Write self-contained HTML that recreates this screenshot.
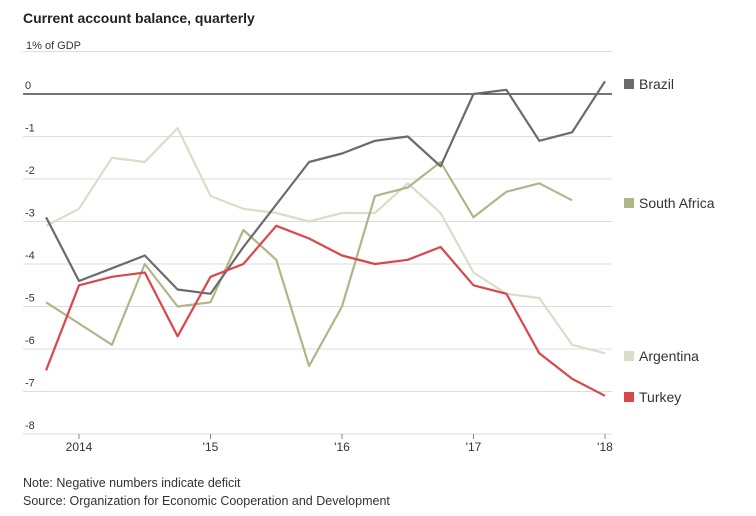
<!DOCTYPE html>
<html><head><meta charset="utf-8"><style>
body{margin:0;background:#fff;font-family:"Liberation Sans",sans-serif;}
svg{display:block}
</style></head><body>
<svg width="756" height="516">
<text x="23" y="23" font-size="14" font-weight="bold" fill="#222">Current account balance, quarterly</text>
<text x="26" y="49" font-size="11" fill="#333">1% of GDP</text>
<g id="grid"></g><g id="lines"></g><g id="legend"></g>
<text x="23" y="487" font-size="12.5" fill="#333">Note: Negative numbers indicate deficit</text>
<text x="23" y="505" font-size="12.5" fill="#333">Source: Organization for Economic Cooperation and Development</text>
</svg>
<script>
const yTicks=[0,-1,-2,-3,-4,-5,-6,-7,-8];
const yTickLabels=["0","-1","-2","-3","-4","-5","-6","-7","-8"];
const xTicks=[2014,2015,2016,2017,2018];
const xTickLabels=["2014","'15","'16","'17","'18"];
const startYear=2013.75;
const brazil=[-2.9,-4.4,-4.1,-3.8,-4.6,-4.7,-3.6,-2.6,-1.6,-1.4,-1.1,-1.0,-1.7,0,0.1,-1.1,-0.9,0.3];
const southAfrica=[-4.9,-5.4,-5.9,-4.0,-5.0,-4.9,-3.2,-3.9,-6.4,-5.0,-2.4,-2.2,-1.6,-2.9,-2.3,-2.1,-2.5];
const argentina=[-3.1,-2.7,-1.5,-1.6,-0.8,-2.4,-2.7,-2.8,-3.0,-2.8,-2.8,-2.1,-2.8,-4.2,-4.7,-4.8,-5.9,-6.1];
const turkey=[-6.5,-4.5,-4.3,-4.2,-5.7,-4.3,-4.0,-3.1,-3.4,-3.8,-4.0,-3.9,-3.6,-4.5,-4.7,-6.1,-6.7,-7.1];
const seriesNames=["Brazil","South Africa","Argentina","Turkey"];
const NS="http://www.w3.org/2000/svg";
const X=t=>79+(t-2014)*131.5;
const Y=v=>94-v*42.5;
function mk(tag,attrs,parent){const e=document.createElementNS(NS,tag);for(const k in attrs)e.setAttribute(k,attrs[k]);parent.appendChild(e);return e;}
const grid=document.getElementById('grid');
let g=mk('line',{x1:23,x2:612,y1:Y(1),y2:Y(1),stroke:'#ddd','stroke-width':1},grid);


yTicks.forEach((v,i)=>{
 const l=mk('line',{x1:23,x2:612,y1:Y(v),y2:Y(v),stroke:v===0?'#222':'#ddd','stroke-width':v===0?1.2:1},grid);
 
 
 const t=mk('text',{x:25,y:Y(v)-5,'font-size':11,fill:'#333'},grid);t.textContent=yTickLabels[i];
 
 
});
xTicks.forEach((v,i)=>{
 const l=mk('line',{x1:X(v),x2:X(v),y1:Y(-8),y2:Y(-8)+5,stroke:'#888'},grid);
 
 
 const t=mk('text',{x:X(v),y:451,'font-size':12,fill:'#333','text-anchor':'middle'},grid);t.textContent=xTickLabels[i];
 
 
});
const data=[argentina,southAfrica,brazil,turkey];
const names=["argentina","south-africa","brazil","turkey"];
const colors=["#dcdcc8","#b2b58a","#6b6b6b","#d9474b"];
const lines=document.getElementById('lines');
data.forEach((s,k)=>{
 const pts=s.map((v,i)=>X(startYear+i*0.25).toFixed(1)+','+Y(v).toFixed(1)).join(' ');
 const p=mk('polyline',{points:pts,fill:'none',stroke:colors[k],'stroke-width':2.2,'stroke-linejoin':'round'},lines);
 
 
});
const leg=[["Brazil","#6b6b6b",85],["South Africa","#b2b58a",204],["Argentina","#dcdcc8",357],["Turkey","#d9474b",398]];
const lg=document.getElementById('legend');
leg.forEach(e=>{
 const r=mk('rect',{x:624,y:e[2]-6,width:10,height:10,fill:e[1]},lg);
 
 
 const t=mk('text',{x:639,y:e[2]+4,'font-size':14,fill:'#333'},lg);t.textContent=e[0];
 
 
});
</script>
</body></html>
